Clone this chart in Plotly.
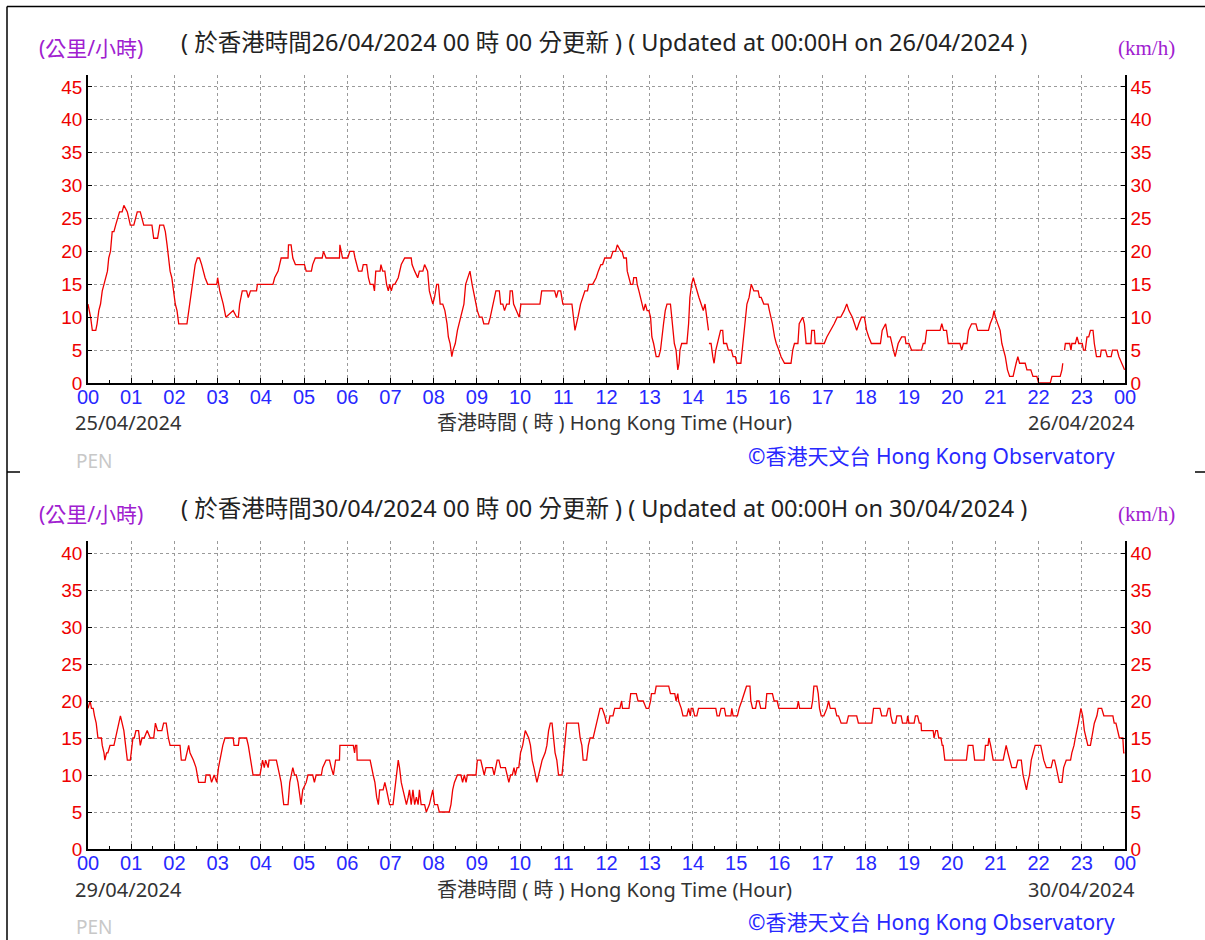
import plotly.graph_objects as go

W, H = 1205, 940

# ---------------- data ----------------
hour_ticks = list(range(25))
hour_labels = [f"{h:02d}" for h in range(24)] + ["00"]
speed_ticks_top = list(range(0, 50, 5))
speed_ticks_bottom = list(range(0, 45, 5))

# 25/04/2024 00:00 - 26/04/2024 00:00 (hours, km/h)
t_top = [0.0, 0.06, 0.10, 0.18, 0.21, 0.25, 0.29, 0.33, 0.37, 0.41, 0.45, 0.48, 0.52, 0.56, 0.60, 0.64, 0.68, 0.73, 0.79, 0.83,
         0.91, 0.94, 0.98, 1.06, 1.10, 1.14, 1.21, 1.25, 1.29, 1.48, 1.52, 1.61, 1.66, 1.75, 1.79, 1.83, 1.86, 1.90, 1.94, 1.98,
         2.02, 2.06, 2.10, 2.29, 2.33, 2.40, 2.44, 2.48, 2.53, 2.58, 2.63, 2.71, 2.77, 2.98, 3.00, 3.05, 3.13, 3.19, 3.36, 3.44,
         3.48, 3.51, 3.57, 3.67, 3.71, 3.76, 3.90, 3.92, 4.28, 4.32, 4.40, 4.47, 4.63, 4.64, 4.70, 4.74, 4.80, 5.01, 5.05, 5.17,
         5.20, 5.26, 5.42, 5.45, 5.51, 5.82, 5.83, 5.89, 6.01, 6.06, 6.15, 6.18, 6.26, 6.34, 6.37, 6.45, 6.49, 6.53, 6.60, 6.63,
         6.66, 6.76, 6.78, 6.82, 6.87, 6.91, 6.95, 6.98, 7.02, 7.06, 7.10, 7.18, 7.25, 7.33, 7.48, 7.50, 7.56, 7.63, 7.67, 7.75,
         7.79, 7.86, 7.90, 7.98, 8.02, 8.07, 8.11, 8.15, 8.21, 8.26, 8.31, 8.34, 8.38, 8.42, 8.45, 8.50, 8.55, 8.63, 8.70, 8.74,
         8.79, 8.84, 8.89, 8.95, 9.01, 9.06, 9.12, 9.16, 9.27, 9.31, 9.37, 9.40, 9.44, 9.52, 9.55, 9.60, 9.64, 9.69, 9.75, 9.77,
         9.82, 9.85, 9.92, 9.98, 10.02, 10.46, 10.50, 10.80, 10.84, 10.88, 10.94, 10.99, 11.20, 11.23, 11.27, 11.34, 11.40, 11.45, 11.50, 11.56,
         11.59, 11.68, 11.76, 11.81, 11.87, 11.91, 11.96, 12.10, 12.15, 12.21, 12.25, 12.33, 12.36, 12.40, 12.46, 12.48, 12.52, 12.56, 12.61, 12.63,
         12.69, 12.71, 12.75, 12.79, 12.82, 12.86, 12.90, 12.94, 12.98, 13.02, 13.05, 13.09, 13.15, 13.21, 13.25, 13.28, 13.32, 13.36, 13.40, 13.48,
         13.51, 13.54, 13.57, 13.61, 13.65, 13.68, 13.70, 13.74, 13.86, 13.90, 13.93, 13.97, 14.01, 14.05, 14.09, 14.14, 14.19, 14.24, 14.28, 14.32,
         14.36, 14.365, 14.37, 14.42, 14.46, 14.49, 14.53, 14.57, 14.60, 14.64, 14.69, 14.71, 14.78, 14.82, 14.89, 14.93, 14.98, 15.02, 15.11, 15.14,
         15.18, 15.21, 15.25, 15.30, 15.35, 15.41, 15.51, 15.54, 15.58, 15.64, 15.74, 15.77, 15.81, 15.84, 15.89, 15.93, 15.99, 16.04, 16.12, 16.27,
         16.31, 16.35, 16.43, 16.46, 16.54, 16.58, 16.62, 16.73, 16.75, 16.81, 16.83, 17.04, 17.10, 17.19, 17.27, 17.34, 17.42, 17.50, 17.56, 17.61,
         17.69, 17.74, 17.79, 17.84, 17.90, 17.97, 18.02, 18.07, 18.13, 18.34, 18.38, 18.46, 18.51, 18.57, 18.60, 18.64, 18.68, 18.71, 18.75, 18.83,
         18.91, 18.93, 19.00, 19.06, 19.29, 19.33, 19.37, 19.41, 19.72, 19.76, 19.80, 19.87, 19.91, 20.18, 20.22, 20.26, 20.34, 20.38, 20.45, 20.55,
         20.59, 20.84, 20.88, 20.94, 20.97, 21.00, 21.05, 21.11, 21.15, 21.19, 21.23, 21.28, 21.33, 21.41, 21.44, 21.48, 21.52, 21.56, 21.69, 21.73,
         21.82, 21.87, 21.96, 22.00, 22.27, 22.31, 22.50, 22.54, 22.56, 22.58, 22.60, 22.62, 22.72, 22.75, 22.77, 22.85, 22.89, 22.93, 23.01, 23.04,
         23.08, 23.12, 23.16, 23.20, 23.26, 23.29, 23.34, 23.43, 23.45, 23.55, 23.59, 23.68, 23.71, 23.82, 23.86, 23.93, 23.99]
v_top = [12, 10, 8, 8, 9, 11, 12, 14, 15, 16, 17, 19, 20, 23, 23, 24, 25, 26, 26, 27,
         26, 25, 24, 24, 25, 26, 26, 25, 24, 24, 22, 22, 24, 24, 23, 21, 19, 17, 16, 14,
         12, 11, 9, 9, 11, 14, 16, 18, 19, 19, 18, 16, 15, 15, 16, 14, 12, 10, 11, 10,
         10, 12, 14, 14, 13, 14, 14, 15, 15, 16, 17, 19, 19, 21, 21, 19, 18, 18, 17, 17,
         18, 19, 19, 20, 19, 19, 21, 19, 19, 20, 20, 19, 17, 17, 18, 18, 16, 15, 15, 14,
         17, 17, 18, 17, 17, 15, 14, 15, 14, 15, 15, 16, 18, 19, 19, 18, 17, 16, 17, 17,
         18, 17, 14, 12, 13, 15, 15, 12, 12, 11, 9, 7, 6, 4, 5, 6, 8, 10, 12, 15,
         16, 17, 15, 13, 11, 10, 10, 9, 9, 10, 12, 13, 14, 14, 12, 12, 11, 12, 12, 14,
         14, 12, 11, 10, 12, 12, 14, 14, 13, 14, 14, 12, 12, 10, 8, 10, 12, 13, 14, 14,
         15, 15, 16, 17, 18, 18, 19, 19, 20, 20, 21, 20, 20, 19, 19, 17, 16, 15, 15, 16,
         16, 15, 14, 13, 12, 11, 12, 11, 11, 10, 7, 6, 4, 4, 5, 7, 9, 11, 12, 12,
         10, 9, 6, 5, 2, 3, 5, 6, 6, 9, 13, 15, 16, 15, 14, 13, 12, 11, 12, 10,
         8, None, 6, 6, 4, 3, 5, 6, 7, 8, 8, 6, 6, 5, 5, 4, 4, 3, 3, 5,
         7, 10, 12, 13, 15, 14, 14, 13, 13, 12, 12, 11, 10, 9, 7, 6, 5, 4, 3, 3,
         5, 6, 6, 9, 10, 9, 6, 6, 8, 8, 6, 6, 7, 8, 9, 10, 10, 11, 12, 11,
         10, 9, 8, 9, 10, 10, 8, 7, 6, 6, 8, 9, 7, 7, 6, 5, 4, 5, 6, 7,
         7, 6, 6, 5, 5, 6, 6, 8, 8, 9, 8, 8, 6, 6, 5, 6, 6, 8, 9, 9,
         8, 8, 9, 10, 11, 10, 9, 8, 6, 5, 4, 2, 1, 1, 2, 3, 4, 3, 3, 2,
         2, 1, 1, 0, 0, 1, 1, 2, 3, None, 5, 6, 6, 5, 6, 6, 7, 6, 6, 5,
         5, 7, 7, 8, 8, 6, 4, 4, 5, 5, 4, 4, 5, 5, 4, 3, 2]

# 29/04/2024 00:00 - 30/04/2024 00:00 (hours, km/h)
t_bot = [0.0, 0.05, 0.08, 0.12, 0.15, 0.19, 0.23, 0.31, 0.33, 0.37, 0.39, 0.43, 0.46, 0.51, 0.60, 0.64, 0.68, 0.71, 0.75, 0.79,
         0.83, 0.87, 0.91, 0.98, 1.01, 1.04, 1.07, 1.11, 1.17, 1.21, 1.25, 1.30, 1.37, 1.44, 1.52, 1.56, 1.61, 1.71, 1.75, 1.81,
         1.86, 1.90, 2.13, 2.16, 2.25, 2.29, 2.33, 2.36, 2.44, 2.50, 2.56, 2.71, 2.73, 2.82, 2.86, 2.92, 2.98, 3.02, 3.05, 3.12,
         3.17, 3.36, 3.38, 3.48, 3.50, 3.67, 3.71, 3.76, 3.82, 3.98, 4.01, 4.04, 4.08, 4.11, 4.17, 4.19, 4.36, 4.40, 4.44, 4.47,
         4.53, 4.63, 4.67, 4.70, 4.74, 4.78, 4.82, 4.86, 4.90, 4.93, 4.97, 5.05, 5.09, 5.20, 5.24, 5.28, 5.40, 5.43, 5.51, 5.59,
         5.63, 5.68, 5.73, 5.82, 5.83, 6.14, 6.17, 6.19, 6.22, 6.23, 6.53, 6.56, 6.60, 6.64, 6.68, 6.72, 6.75, 6.83, 6.87, 6.91,
         6.95, 6.98, 7.06, 7.10, 7.14, 7.18, 7.21, 7.25, 7.29, 7.33, 7.37, 7.41, 7.44, 7.48, 7.52, 7.56, 7.60, 7.64, 7.67, 7.71,
         7.79, 7.83, 7.90, 7.98, 8.02, 8.09, 8.13, 8.36, 8.40, 8.44, 8.48, 8.55, 8.63, 8.67, 8.71, 8.75, 8.78, 8.98, 9.01, 9.09,
         9.13, 9.17, 9.21, 9.36, 9.40, 9.43, 9.47, 9.51, 9.55, 9.66, 9.70, 9.74, 9.78, 9.82, 9.86, 9.89, 9.93, 9.97, 10.01, 10.06,
         10.12, 10.20, 10.24, 10.28, 10.32, 10.35, 10.39, 10.43, 10.47, 10.51, 10.58, 10.62, 10.66, 10.70, 10.74, 10.77, 10.81, 10.85, 10.89, 10.97,
         11.00, 11.04, 11.08, 11.35, 11.39, 11.43, 11.46, 11.54, 11.58, 11.62, 11.69, 11.73, 11.77, 11.81, 11.85, 11.90, 11.96, 12.00, 12.05, 12.08,
         12.15, 12.19, 12.28, 12.31, 12.35, 12.37, 12.52, 12.56, 12.69, 12.73, 12.85, 12.88, 12.92, 12.98, 13.02, 13.04, 13.12, 13.15, 13.44, 13.48,
         13.58, 13.61, 13.65, 13.67, 13.73, 13.77, 13.86, 13.90, 13.94, 13.96, 14.00, 14.04, 14.09, 14.13, 14.53, 14.56, 14.61, 14.65, 14.73, 14.76,
         14.88, 14.90, 14.93, 15.03, 15.07, 15.13, 15.19, 15.24, 15.32, 15.34, 15.38, 15.45, 15.48, 15.53, 15.57, 15.68, 15.71, 15.84, 15.88, 15.95,
         15.99, 16.41, 16.44, 16.47, 16.74, 16.77, 16.80, 16.87, 16.90, 16.93, 16.97, 17.03, 17.10, 17.14, 17.18, 17.29, 17.33, 17.37, 17.43, 17.56,
         17.60, 17.79, 17.83, 18.14, 18.18, 18.33, 18.37, 18.48, 18.52, 18.56, 18.58, 18.62, 18.69, 18.72, 18.82, 18.85, 18.95, 18.97, 19.00, 19.12,
         19.15, 19.20, 19.24, 19.28, 19.29, 19.56, 19.58, 19.62, 19.66, 19.69, 19.74, 19.77, 19.79, 19.83, 20.33, 20.37, 20.48, 20.52, 20.74, 20.77,
         20.83, 20.85, 20.89, 20.95, 21.18, 21.22, 21.25, 21.29, 21.33, 21.38, 21.48, 21.52, 21.60, 21.64, 21.68, 21.72, 21.75, 21.79, 21.83, 21.88,
         21.92, 22.05, 22.08, 22.12, 22.18, 22.29, 22.33, 22.37, 22.41, 22.45, 22.48, 22.54, 22.58, 22.64, 22.74, 22.77, 22.82, 22.85, 22.89, 22.92,
         22.95, 22.98, 23.02, 23.06, 23.10, 23.14, 23.20, 23.23, 23.29, 23.35, 23.38, 23.46, 23.51, 23.72, 23.75, 23.79, 23.83, 23.87, 23.95, 23.97,
         23.99]
v_bot = [19, 20, 19, 19, 18, 17, 15, 15, 14, 13, 12, 13, 13, 14, 14, 15, 16, 17, 18, 17,
         16, 14, 12, 12, 14, 15, 15, 16, 16, 14, 15, 15, 16, 15, 15, 17, 16, 16, 17, 17,
         15, 14, 14, 12, 12, 13, 14, 13, 12, 11, 9, 9, 10, 10, 9, 10, 9, 11, 12, 14,
         15, 15, 14, 14, 15, 15, 14, 12, 10, 10, 11, 12, 11, 12, 11, 12, 12, 11, 10, 9,
         6, 6, 9, 10, 11, 10, 10, 9, 7, 6, 8, 9, 10, 10, 9, 10, 10, 11, 12, 12,
         11, 10, 12, 12, 14, 14, 13, 14, 14, 12, 12, 11, 10, 9, 7, 6, 8, 8, 9, 8,
         7, 6, 6, 8, 10, 12, 11, 9, 8, 7, 6, 7, 8, 6, 8, 6, 7, 6, 8, 6,
         6, 5, 6, 8, 6, 6, 5, 5, 6, 8, 9, 10, 10, 9, 10, 9, 10, 10, 12, 12,
         11, 10, 11, 11, 10, 11, 12, 12, 11, 11, 10, 9, 10, 10, 11, 10, 11, 11, 13, 14,
         16, 15, 14, 12, 11, 10, 9, 10, 11, 12, 13, 14, 16, 17, 17, 15, 13, 12, 10, 10,
         12, 14, 17, 17, 15, 14, 12, 12, 14, 15, 15, 16, 17, 18, 19, 19, 18, 17, 17, 18,
         18, 19, 19, 19, 20, 19, 19, 21, 21, 20, 20, 19.5, 19, 19, 20, 21, 21, 22, 22, 21,
         21, 20, 21, 20, 19, 18, 18, 19, 18, 19, 19, 18, 18, 19, 19, 18, 18, 19, 19, 18,
         18, 19, 18, 18, 19, 20, 21, 22, 22, 20, 19, 19, 20, 20, 19, 19, 21, 21, 20, 20,
         19, 19, 20, 19, 19, 20, 22, 22, 21, 19, 18, 18, 19, 20, 19, 19, 18, 18, 17, 17,
         18, 18, 17, 17, 19, 19, 18, 18, 19, 19, 18, 17, 17, 18, 18, 17, 17, 18, 17, 17,
         18, 18, 17, 17, 16, 16, 15, 16, 16, 15, 15, 14, 14, 12, 12, 14, 14, 12, 12, 14,
         14, 15, 14, 12, 12, 13, 14, 13, 12, 11, 11, 12, 12, 10, 9, 8, 9, 10, 12, 13,
         14, 14, 13, 12, 11, 11, 12, 12, 11, 10, 9, 9, 11, 12, 12, 13, 14, 15, 16, 17,
         18, 19, 18, 16, 15, 14, 14, 15, 17, 18, 19, 19, 18, 18, 17, 17, 16, 15, 15, 13,
         13]

title_top = "( 於香港時間26/04/2024 00 時 00 分更新 ) ( Updated at 00:00H on 26/04/2024 )"
title_bot = "( 於香港時間30/04/2024 00 時 00 分更新 ) ( Updated at 00:00H on 30/04/2024 )"
start_top, end_top = "25/04/2024", "26/04/2024"
start_bot, end_bot = "29/04/2024", "30/04/2024"
unit_zh = "(公里/小時)"
unit_en = "(km/h)"
xlabel = "香港時間 ( 時 ) Hong Kong Time (Hour)"
station = "PEN"
credit = "©香港天文台 Hong Kong Observatory"

# ---------------- styling ----------------
SANS = "Noto Sans, Noto Sans CJK TC, sans-serif"
NARROW = "Liberation Sans Narrow, Liberation Sans, Arial, sans-serif"
RED = "#ee0000"
BLUE = "#2828ff"
PURPLE = "#a020d0"
GRID = "#9a9a9a"


def px(x):
    return x / W


def py(y):
    return 1 - y / H


X0, X1 = 88, 1125
panels = [
    dict(zero=383, top=75, scale=6.58, off=0),
    dict(zero=849, top=541, scale=7.4, off=466),
]

fig = go.Figure()
fig.add_trace(go.Scatter(x=t_top, y=v_top, mode="lines", line=dict(color=RED, width=1.3),
                         xaxis="x", yaxis="y", showlegend=False, hoverinfo="skip"))
fig.add_trace(go.Scatter(x=t_bot, y=v_bot, mode="lines", line=dict(color=RED, width=1.3),
                         xaxis="x2", yaxis="y2", showlegend=False, hoverinfo="skip"))
fig.add_trace(go.Scatter(x=[0], y=[0], mode="lines", xaxis="x", yaxis="y3",
                         showlegend=False, hoverinfo="skip"))
fig.add_trace(go.Scatter(x=[0], y=[0], mode="lines", xaxis="x2", yaxis="y4",
                         showlegend=False, hoverinfo="skip"))


def xaxis_cfg(anchor):
    return dict(domain=[px(X0), px(X1)], range=[0, 24], anchor=anchor,
                tickmode="array", tickvals=hour_ticks, ticktext=hour_labels,
                tickfont=dict(family=NARROW, size=20, color=BLUE),
                ticks="inside", ticklen=5, tickcolor="black", tickwidth=1,
                ticklabelstandoff=-5,
                showline=True, linecolor="black", linewidth=1.5,
                showgrid=True, gridcolor=GRID, griddash="dot", gridwidth=1,
                minor=dict(dtick=0.5, tick0=0, ticks="inside", ticklen=3,
                           tickcolor="black", showgrid=False),
                zeroline=False, fixedrange=True, automargin=False)


def yaxis_cfg(p, ticks, anchor, side, overlay=None):
    rng = [0, (p["zero"] - p["top"]) / p["scale"]]
    d = dict(range=rng, anchor=anchor, side=side,
             tickmode="array", tickvals=ticks,
             tickfont=dict(family=NARROW, size=19, color=RED),
             ticks="inside", ticklen=4, tickcolor="black",
             showline=True, linecolor="black", linewidth=1.5,
             zeroline=False, fixedrange=True, automargin=False)
    if overlay:
        d.update(overlaying=overlay, showgrid=False)
    else:
        d.update(domain=[py(p["zero"]), py(p["top"])], showgrid=True,
                 gridcolor=GRID, griddash="dot", gridwidth=1)
    return d


ann = []


def text(x, y, s, size, color, family=SANS, xanchor="center"):
    ann.append(dict(x=px(x), y=py(y), xref="paper", yref="paper", text=s, showarrow=False,
                    xanchor=xanchor, yanchor="middle",
                    font=dict(family=family, size=size, color=color)))


for p, title, d0, d1 in [(panels[0], title_top, start_top, end_top),
                         (panels[1], title_bot, start_bot, end_bot)]:
    o = p["off"]
    text(604, 42 + o, title, 23.5, "#222222")
    text(37, 48 + o, unit_zh, 21, PURPLE, xanchor="left")
    text(1116, 48 + o, unit_en, 21, PURPLE, family="Liberation Serif, DejaVu Serif, serif", xanchor="left")
    text(73, 423 + o, d0, 20, "#333333", xanchor="left")
    text(614, 423 + o, xlabel, 20, "#333333")
    text(1137, 423 + o, d1, 20, "#333333", xanchor="right")
    text(74, 461 + o, station, 19, "#c8c8c8", xanchor="left")
    text(1117, 456 + o, credit, 21, BLUE, xanchor="right")

shapes = []
for (xa, ya, xb, yb) in [(7, 6.5, W, 6.5), (7, 6.5, 7, H), (7, 472, 20, 472), (1195, 472, W, 472)]:
    shapes.append(dict(type="line", xref="paper", yref="paper",
                       x0=px(xa), y0=py(ya), x1=px(xb), y1=py(yb),
                       line=dict(color="black", width=1.5)))

fig.update_layout(
    width=W, height=H,
    margin=dict(l=0, r=0, t=0, b=0),
    paper_bgcolor="white", plot_bgcolor="white",
    xaxis=xaxis_cfg("y"),
    xaxis2=xaxis_cfg("y2"),
    yaxis=yaxis_cfg(panels[0], speed_ticks_top, "x", "left"),
    yaxis2=yaxis_cfg(panels[1], speed_ticks_bottom, "x2", "left"),
    yaxis3=yaxis_cfg(panels[0], speed_ticks_top, "x", "right", overlay="y"),
    yaxis4=yaxis_cfg(panels[1], speed_ticks_bottom, "x2", "right", overlay="y2"),
    annotations=ann,
    shapes=shapes,
    showlegend=False,
)

fig.write_html("out.html", config={"displayModeBar": False},
               post_script="document.body.style.margin='0';document.body.style.overflow='hidden';")
